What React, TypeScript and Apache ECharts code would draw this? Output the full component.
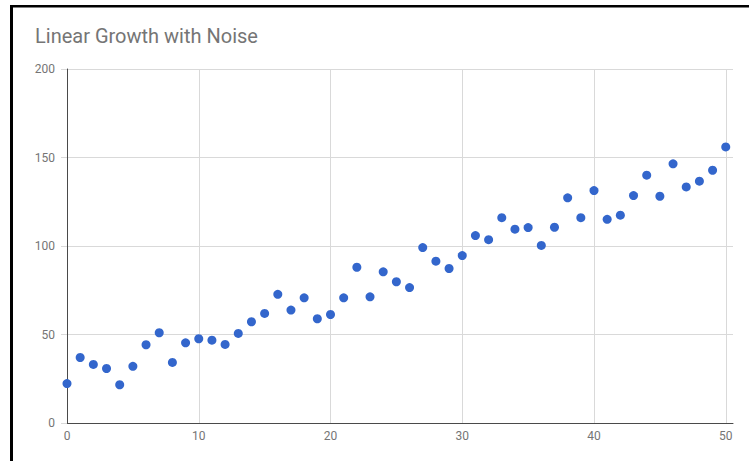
import React, { useEffect, useRef } from "react";
import * as echarts from "echarts";

const TITLE = "Linear Growth with Noise";
const xValues = [
  0, 1, 2, 3, 4, 5, 6, 7, 8, 9, 10, 11, 12, 13, 14, 15, 16, 17, 18, 19, 20,
  21, 22, 23, 24, 25, 26, 27, 28, 29, 30, 31, 32, 33, 34, 35, 36, 37, 38, 39,
  40, 41, 42, 43, 44, 45, 46, 47, 48, 49, 50,
];
const yValues = [
  22.3, 37.0, 33.1, 30.8, 21.6, 32.0, 44.2, 51.0, 34.2, 45.3, 47.6, 46.8, 44.4,
  50.6, 57.2, 61.9, 72.7, 63.8, 70.7, 58.9, 61.3, 70.7, 88.0, 71.3, 85.4, 79.8,
  76.5, 99.1, 91.4, 87.3, 94.6, 105.9, 103.6, 116.0, 109.5, 110.4, 100.3, 110.6,
  127.2, 116.0, 131.3, 115.1, 117.4, 128.5, 140.0, 128.1, 146.4, 133.4, 136.6,
  142.8, 156.0,
];
const xTicks = [0, 10, 20, 30, 40, 50];
const yTicks = [0, 50, 100, 150, 200];

export default function App() {
  const ref = useRef<HTMLDivElement>(null);
  useEffect(() => {
    if (!ref.current) return;
    const chart = echarts.init(ref.current, null, { renderer: "svg" });
    const font = "Roboto, Arial, sans-serif";
    chart.setOption({
      animation: false,
      backgroundColor: "#ffffff",
      title: {
        text: TITLE,
        left: 35,
        top: 26,
        padding: 0,
        textStyle: { fontFamily: font, fontSize: 20, fontWeight: "normal", color: "#757575" },
      },
      grid: { left: 67, top: 69, width: 666, height: 354, containLabel: false },
      xAxis: {
        type: "value",
        min: xTicks[0],
        max: 50.55,
        interval: 10,
        axisLine: { show: true, onZero: false, lineStyle: { color: "#4a4a4a", width: 1 } },
        axisTick: { show: false },
        axisLabel: {
          color: "#757575",
          fontFamily: font,
          fontSize: 12,
          margin: 7,
          showMaxLabel: false,
          formatter: (v: number) => (xTicks.includes(v) ? String(v) : ""),
        },
        splitLine: { show: true, showMaxLine: false, lineStyle: { color: "#d9d9d9", width: 1 } },
      },
      yAxis: {
        type: "value",
        min: yTicks[0],
        max: yTicks[yTicks.length - 1],
        interval: 50,
        axisLine: { show: true, onZero: false, lineStyle: { color: "#4a4a4a", width: 1 } },
        axisTick: { show: true, length: 6, lineStyle: { color: "#d9d9d9" } },
        axisLabel: { color: "#757575", fontFamily: font, fontSize: 12, margin: 12 },
        splitLine: { show: true, lineStyle: { color: "#d9d9d9", width: 1 } },
      },
      series: [
        {
          type: "scatter",
          data: xValues.map((x, i) => [x, yValues[i]]),
          symbol: "circle",
          symbolSize: 9,
          itemStyle: { color: "#3366cc", opacity: 1 },
        },
      ],
      graphic: [
        { type: "rect", shape: { x: 10, y: 5, width: 739, height: 2.5 }, style: { fill: "#000" } },
        { type: "rect", shape: { x: 10, y: 5, width: 3, height: 456 }, style: { fill: "#000" } },
      ],
    });
    return () => chart.dispose();
  }, []);
  return (
    <div
      ref={ref}
      style={{ position: "absolute", left: 0, top: 0, width: 749, height: 461 }}
    />
  );
}
